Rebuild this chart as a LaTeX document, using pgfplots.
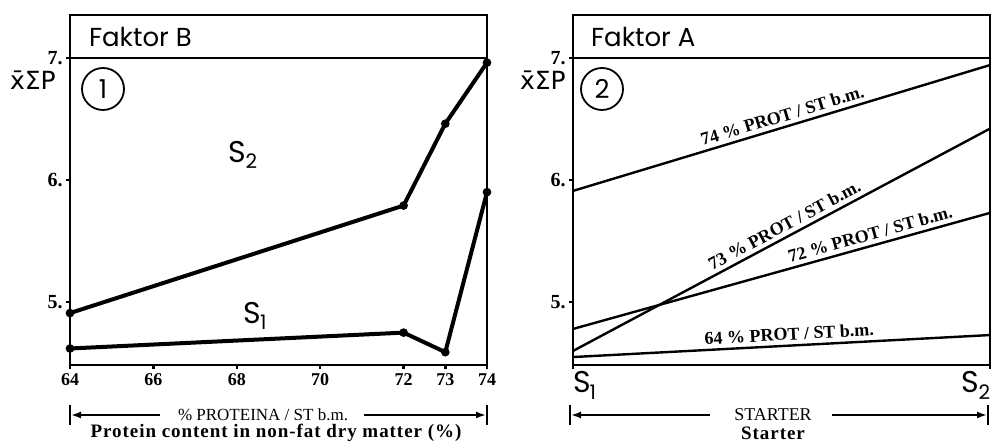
\documentclass[border=0pt]{standalone}
\usepackage{pgfplots}
\pgfplotsset{compat=1.18}
\usepackage{fontspec}
\setmainfont{Liberation Serif}
\newfontfamily\geo{Poppins}
\newfontfamily\dv{DejaVu Sans}
\usetikzlibrary{arrows.meta}
\newcommand\lblfont{\bfseries\fontsize{9}{10}\selectfont}
\newcommand\yl[1]{{\bfseries\fontsize{10}{10}\selectfont #1}}
\begin{document}
\begin{tikzpicture}
\useasboundingbox (0,0) rectangle (495.5pt,221pt);
\pgfplotsset{
 panel/.style={
  scale only axis, width=208.5pt, height=175pt,
  anchor=south west,
  ymin=4.485, ymax=7.35,
  ytick={5,6,7}, yticklabels={\yl{5.},\yl{6.},\yl{7.}},
  /pgf/number format/assume math mode=true,
  tick align=outside, major tick length=2pt,
  xtick pos=bottom, ytick pos=left,
  axis line style={line width=1pt},
  every tick/.style={black, line width=1.2pt},
  yticklabel style={inner sep=1.5pt},
  clip=false,
 }
}
% ---------- panel 1 ----------
\begin{axis}[panel, at={(35pt,38.5pt)}, xmin=64, xmax=74, xtick={64,66,68,70,72,73,74},
  xticklabel style={font=\bfseries\fontsize{9}{10}\selectfont, inner sep=2pt}]
\addplot[line width=2pt, mark=*, mark size=1.1pt] coordinates {(64,4.91)(72,5.79)(73,6.46)(74,6.96)};
\addplot[line width=2pt, mark=*, mark size=1.1pt] coordinates {(64,4.62)(72,4.75)(73,4.59)(74,5.90)};
\draw[line width=1pt] (axis cs:64,7) -- (axis cs:74,7);
\end{axis}
% ---------- panel 2 ----------
\begin{axis}[panel, at={(286.5pt,38.5pt)}, xmin=0, xmax=1, xtick={0,1},
  xticklabels={\makebox[0pt][l]{\geo\fontsize{15}{15}\selectfont S\kern-0.5pt\raisebox{-0.4ex}{\fontsize{10}{10}\selectfont 1}},
               \makebox[0pt][r]{\geo\fontsize{15}{15}\selectfont S\kern-0.5pt\raisebox{-0.4ex}{\fontsize{10}{10}\selectfont 2}}},
  xticklabel style={inner sep=1pt}]
\addplot[line width=1.2pt] coordinates {(0,5.91)(1,6.94)}
  node[pos=0.51, sloped, above, inner sep=2pt, font=\lblfont] {74 \% PROT / ST b.m.};
\addplot[line width=1.2pt] coordinates {(0,4.60)(1,6.42)}
  node[pos=0.52, sloped, above, inner sep=2pt, font=\lblfont] {73 \% PROT / ST b.m.};
\addplot[line width=1.2pt] coordinates {(0,4.78)(1,5.73)}
  node[pos=0.72, sloped, above, inner sep=2pt, font=\lblfont] {72 \% PROT / ST b.m.};
\addplot[line width=1.2pt] coordinates {(0,4.55)(1,4.73)}
  node[pos=0.52, sloped, above, inner sep=2pt, font=\lblfont] {64 \% PROT / ST b.m.};
\draw[line width=1pt] (axis cs:0,7) -- (axis cs:1,7);
\end{axis}
% ---------- annotations ----------
\node[anchor=west, font=\geo\fontsize{13}{13}\selectfont] at (41pt,202.5pt) {Faktor B};
\node[anchor=west, font=\geo\fontsize{13}{13}\selectfont] at (292pt,202.5pt) {Faktor A};
\node[circle, draw, line width=0.9pt, minimum size=21pt, inner sep=0pt, font=\geo\fontsize{13}{13}\selectfont] at (51.5pt,176.5pt) {1};
\node[circle, draw, line width=0.9pt, minimum size=21pt, inner sep=0pt, font=\geo\fontsize{13}{13}\selectfont] at (301pt,176.5pt) {2};
\node[font=\dv\fontsize{12.5}{12.5}\selectfont] at (16.5pt,181pt) {\=xΣP};
\node[font=\dv\fontsize{12.5}{12.5}\selectfont] at (271.5pt,181pt) {\=xΣP};
\node[font=\geo\fontsize{15}{15}\selectfont] at (121.5pt,143.5pt) {S\kern-0.5pt\raisebox{-0.4ex}{\fontsize{10}{10}\selectfont 2}};
\node[font=\geo\fontsize{15}{15}\selectfont] at (127.5pt,63pt) {S\kern-0.5pt\raisebox{-0.4ex}{\fontsize{10}{10}\selectfont 1}};
% bracket left
\draw[line width=1pt] (35pt,8.5pt) -- (35pt,18.5pt);
\draw[line width=1pt] (243.5pt,8.5pt) -- (243.5pt,18.5pt);
\draw[line width=0.9pt, -{Latex[length=5pt,width=3.5pt]}] (80pt,13.5pt) -- (35.5pt,13.5pt);
\draw[line width=0.9pt, -{Latex[length=5pt,width=3.5pt]}] (182pt,13.5pt) -- (243pt,13.5pt);
\node[font=\fontsize{8.5}{10}\selectfont] at (131.5pt,13.5pt) {\% PROTEINA / ST b.m.};
\node[font=\bfseries\fontsize{9.5}{10}\selectfont\addfontfeatures{LetterSpace=5}] at (138pt,4.5pt) {Protein content in non-fat dry matter (\%)};
% bracket right
\draw[line width=1pt] (285pt,8.5pt) -- (285pt,18.5pt);
\draw[line width=1pt] (494pt,8.5pt) -- (494pt,18.5pt);
\draw[line width=0.9pt, -{Latex[length=5pt,width=3.5pt]}] (355pt,13.5pt) -- (285.5pt,13.5pt);
\draw[line width=0.9pt, -{Latex[length=5pt,width=3.5pt]}] (416pt,13.5pt) -- (493.5pt,13.5pt);
\node[font=\fontsize{9}{10}\selectfont] at (386.5pt,13.5pt) {STARTER};
\node[font=\bfseries\fontsize{9.5}{10}\selectfont\addfontfeatures{LetterSpace=5}] at (386.5pt,4.5pt) {Starter};
\end{tikzpicture}
\end{document}
